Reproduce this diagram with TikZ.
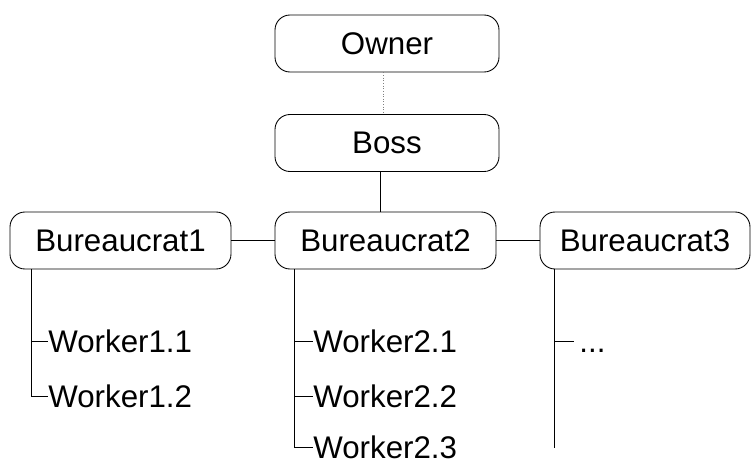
\documentclass[tikz,border=0pt]{standalone}
\usepackage{fontspec}
\setmainfont{Liberation Sans}
\begin{document}
\begin{tikzpicture}[font=\fontsize{17.8}{21}\selectfont,
    rank/.style={draw, line width=0.5pt, rounded corners=0.3cm,
      minimum height=1.14cm, inner sep=0pt},
    leaf/.style={anchor=west, inner xsep=0pt, text height=0.45cm, text depth=0pt},
    link/.style={line width=0.5pt}]
  \useasboundingbox (0,0) rectangle (15.02,-9.26);
  \node[rank, minimum width=4.48cm] (owner) at (7.74,-0.87) {Owner};
  \node[rank, minimum width=4.48cm] (boss) at (7.74,-2.86) {Boss};
  \node[rank, minimum width=4.42cm] (bur1) at (2.41,-4.81) {Bureaucrat1};
  \node[rank, minimum width=4.42cm] (bur2) at (7.71,-4.81) {Bureaucrat2};
  \node[rank, minimum width=4.2cm] (bur3) at (12.9,-4.81) {Bureaucrat3};
  %%
  \draw[densely dotted, gray, line width=0.5pt]
    ([xshift=-0.08cm]owner.south) -- ([xshift=-0.08cm]boss.north);
  \draw[link] ([xshift=-0.14cm]boss.south) -- ([xshift=-0.14cm]boss.south |- bur2.north);
  \draw[link] (bur1) -- (bur2);
  \draw[link] (bur2) -- (bur3);
  %% workers
  \node[leaf] (w11) at (0.96,-6.82) {Worker1.1};
  \node[leaf] (w12) at (0.96,-7.93) {Worker1.2};
  \node[leaf] (w21) at (6.26,-6.82) {Worker2.1};
  \node[leaf] (w22) at (6.26,-7.93) {Worker2.2};
  \node[leaf] (w23) at (6.26,-8.94) {Worker2.3};
  \node[leaf, inner xsep=0.1cm] (more) at (11.48,-6.82) {...};
  %%
  \coordinate (t1) at ([xshift=0.44cm]bur1.south west);
  \coordinate (t2) at ([xshift=0.4cm]bur2.south west);
  \coordinate (t3) at ([xshift=0.3cm]bur3.south west);
  \draw[link] (t1) |- (w11.west);
  \draw[link] (t1) |- (w12.west);
  \draw[link] (t2) |- (w21.west);
  \draw[link] (t2) |- (w22.west);
  \draw[link] (t2) |- (w23.west);
  \draw[link] (t3) |- (more.west);
  \draw[link] (t3) -- (t3 |- 0,-8.96);
\end{tikzpicture}
\end{document}
